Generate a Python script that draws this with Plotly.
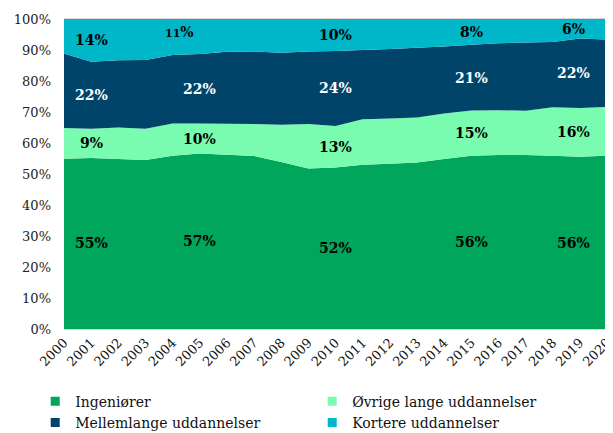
import plotly.graph_objects as go

years = list(range(2000, 2021))
ingenioerer = [54.9, 55.2, 54.8, 54.5, 55.9, 56.6, 56.2, 55.8, 53.9, 51.8, 52.1,
               53.0, 53.3, 53.7, 54.8, 55.9, 56.1, 56.1, 55.9, 55.6, 55.9]
oevrige = [9.9, 9.4, 10.2, 10.1, 10.4, 9.7, 10.0, 10.3, 12.0, 14.3, 13.4,
           14.7, 14.6, 14.5, 14.7, 14.6, 14.5, 14.3, 15.6, 15.7, 15.7]
mellemlange = [24.1, 21.6, 21.7, 22.2, 22.1, 22.4, 23.2, 23.4, 23.2, 23.4, 24.2,
               22.3, 22.4, 22.5, 21.6, 21.2, 21.6, 22.0, 21.1, 22.4, 21.8]
kortere = [11.1, 13.8, 13.3, 13.2, 11.6, 11.3, 10.6, 10.5, 10.9, 10.5, 10.3,
           10.0, 9.7, 9.3, 8.9, 8.3, 7.8, 7.6, 7.4, 6.3, 6.6]

series_names = ["Ingeniører", "Øvrige lange uddannelser",
                "Mellemlange uddannelser", "Kortere uddannelser"]
series_values = [ingenioerer, oevrige, mellemlange, kortere]
colors = ["#00A65B", "#7AFCB0", "#01446A", "#00B6C9"]
label_colors = ["black", "black", "white", "black"]
label_years = [2001, 2005, 2010, 2015, 2019]
y_ticks = list(range(0, 101, 10))

SERIF = "DejaVu Serif"

fig = go.Figure()
for name, vals, col in zip(series_names, series_values, colors):
    fig.add_trace(go.Scatter(
        x=years, y=vals, stackgroup="one", mode="none",
        fillcolor=col, name=name, showlegend=False, hoverinfo="skip"))

# legend entries with square markers
for name, col in zip(series_names, colors):
    fig.add_trace(go.Scatter(
        x=[None], y=[None], mode="markers", name=name,
        marker=dict(symbol="square", size=9, color=col)))

# value labels at band midpoints
annotations = []
for si, (vals, lc) in enumerate(zip(series_values, label_colors)):
    for yr in label_years:
        i = years.index(yr)
        base = sum(series_values[k][i] for k in range(si))
        mid = base + vals[i] / 2
        val = round(vals[i])
        text = f"<b>{val}%</b>"
        xshift = 0
        if yr == 2019:
            xshift = -6
        if si == 3 and yr == 2005:
            text = f"<b><span style='font-size:11px'>{val}</span>%</b>"
            xshift = -20
            mid += 1.5
        annotations.append(dict(
            x=yr, y=mid, text=text, showarrow=False, xshift=xshift,
            font=dict(family=SERIF, size=14, color=lc)))

# page body adds an 8px offset, so the figure is 8px smaller than the window
fig.update_layout(
    width=605, height=425,
    margin=dict(l=56, r=6, t=11, b=104, autoexpand=False),
    paper_bgcolor="white", plot_bgcolor="white",
    font=dict(family=SERIF, size=13, color="#222222"),
    annotations=annotations,
    xaxis=dict(range=[2000, 2020], tickmode="array", tickvals=years,
               ticktext=[str(y) for y in years], tickangle=-45,
               ticklabeloverflow="allow",
               showgrid=False, zeroline=False, showline=True,
               linecolor="#d9d9d9", linewidth=1, mirror=True, automargin=False,
               tickfont=dict(family=SERIF, size=13, color="#111111")),
    yaxis=dict(range=[0, 100], tickmode="array", tickvals=y_ticks,
               ticktext=[f"{t}%" for t in y_ticks], showgrid=False,
               zeroline=False, showline=False, ticklabelstandoff=12,
               automargin=False,
               tickfont=dict(family=SERIF, size=13, color="#222222")),
    legend=dict(orientation="h", x=-0.053, xanchor="left", y=-0.183, yanchor="top",
                entrywidth=232, entrywidthmode="pixels", traceorder="normal",
                font=dict(family=SERIF, size=14, color="#111111"),
                itemwidth=30, tracegroupgap=0),
)

fig.write_html("out.html")
